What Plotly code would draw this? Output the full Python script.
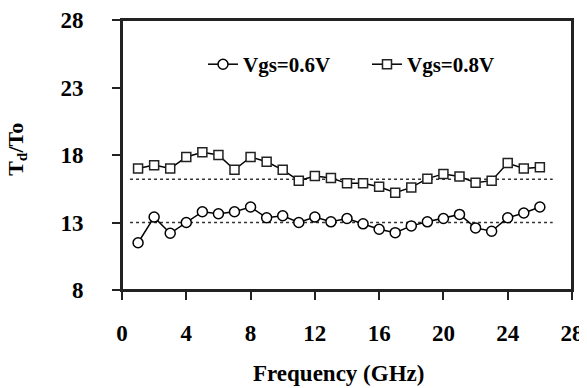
import plotly.graph_objects as go

freq = list(range(1, 27))
td_06 = [11.5, 13.4, 12.2, 13.0, 13.8, 13.65, 13.8, 14.15, 13.35, 13.5, 13.0, 13.4, 13.05,
         13.3, 12.9, 12.5, 12.25, 12.75, 13.05, 13.3, 13.6, 12.6, 12.35, 13.35, 13.7, 14.15]
td_08 = [17.0, 17.25, 17.0, 17.85, 18.2, 18.0, 16.9, 17.85, 17.5, 16.9, 16.1, 16.45, 16.3,
         15.9, 15.9, 15.65, 15.2, 15.6, 16.25, 16.6, 16.4, 15.95, 16.1, 17.4, 17.0, 17.1]
avg_x = [0.5, 26.8]
avg_06 = 13.0
avg_08 = 16.2
xticks = [0, 4, 8, 12, 16, 20, 24, 28]
yticks = [8, 13, 18, 23, 28]

FONT = "Liberation Serif"
fig = go.Figure()
fig.add_trace(go.Scatter(x=avg_x, y=[avg_06, avg_06], mode="lines", showlegend=False,
                         line=dict(color="#333333", width=1.5, dash="dot"), hoverinfo="skip"))
fig.add_trace(go.Scatter(x=avg_x, y=[avg_08, avg_08], mode="lines", showlegend=False,
                         line=dict(color="#333333", width=1.5, dash="dot"), hoverinfo="skip"))
fig.add_trace(go.Scatter(x=freq, y=td_06, mode="lines+markers", name="Vgs=0.6V",
                         line=dict(color="black", width=1.5),
                         marker=dict(symbol="circle", size=10, color="white",
                                     line=dict(color="black", width=1.5))))
fig.add_trace(go.Scatter(x=freq, y=td_08, mode="lines+markers", name="Vgs=0.8V",
                         line=dict(color="black", width=1.5),
                         marker=dict(symbol="square", size=9, color="white",
                                     line=dict(color="#222222", width=1.5))))

axis_common = dict(showline=True, linecolor="#222222", linewidth=2, mirror=True,
                   ticks="outside", ticklen=8, tickwidth=2, tickcolor="#222222",
                   showgrid=False, zeroline=False, automargin=False,
                   ticklabeloverflow="allow",
                   tickfont=dict(family=FONT, size=23, color="black", weight="bold"))
fig.update_xaxes(range=[0, 28], tickvals=xticks, ticklabelstandoff=13, **axis_common)
fig.update_yaxes(range=[8, 28], tickvals=yticks, ticklabelstandoff=24, **axis_common)

# plot frame
fig.add_shape(type="rect", xref="paper", yref="paper", x0=0, y0=0, x1=1, y1=1,
              line=dict(color="#222222", width=2), fillcolor="rgba(0,0,0,0)", layer="above")

fig.add_annotation(text="<b>Frequency (GHz)</b>", xref="paper", yref="paper",
                   x=0.48, y=-0.31, xanchor="center", yanchor="middle", showarrow=False,
                   font=dict(family=FONT, size=23, color="black"))
fig.add_annotation(text="<b>T<sub>d</sub>/To</b>", xref="paper", yref="paper",
                   x=-0.235, y=0.52, xanchor="center", yanchor="middle", showarrow=False,
                   textangle=-90, font=dict(family=FONT, size=22, color="black"))

fig.update_layout(
    width=587, height=388,
    margin=dict(l=114, r=23, t=12, b=106, autoexpand=False),
    paper_bgcolor="white", plot_bgcolor="white",
    legend=dict(orientation="h", x=0.18, y=0.835, xanchor="left", yanchor="middle",
                bgcolor="rgba(0,0,0,0)", entrywidth=119, entrywidthmode="pixels",
                font=dict(family=FONT, size=21, color="black", weight="bold")),
)
fig.write_html("out.html")
